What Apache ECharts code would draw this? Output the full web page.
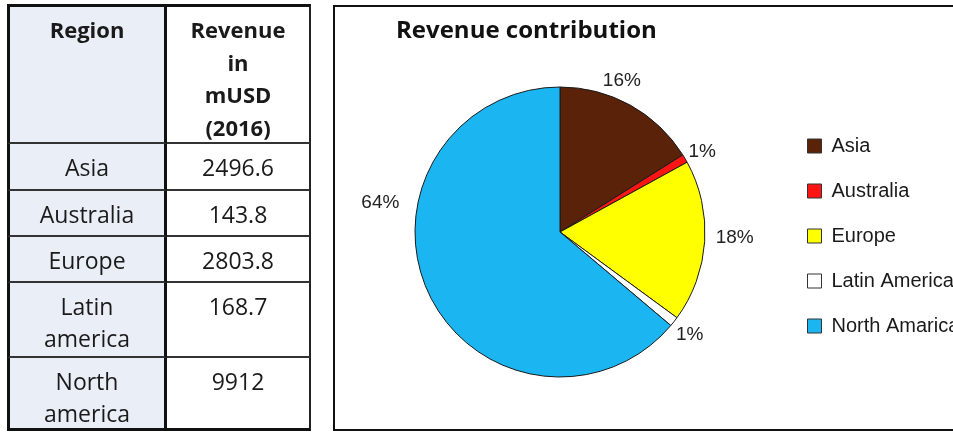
<!DOCTYPE html>
<html>
<head>
<meta charset="utf-8">
<script src="https://cdn.jsdelivr.net/npm/echarts@6/dist/echarts.min.js"></script>
<style>
html,body{margin:0;padding:0;width:953px;height:434px;overflow:hidden;background:#fff;}
#chart{position:absolute;left:0;top:0;width:953px;height:434px;}
#tbl{position:absolute;left:7px;top:4px;z-index:2;font-family:"Open Sans",sans-serif;color:#1a1a1a;}
.row{display:flex;}
.cell{box-sizing:border-box;text-align:center;padding-top:7px;line-height:32px;font-size:23px;border-bottom:2px solid #333;}
.c1{width:160px;background:#e9eef7;border-left:3px solid #111;border-right:3px solid #111;}
.c2{width:144px;background:#fff;border-right:2px solid #222;}
.hdr .cell{font-weight:bold;font-size:22px;line-height:32.5px;padding-top:6px;}
.top .cell{border-top:3px solid #111;}
.last .cell{border-bottom:3px solid #111;}
</style>
</head>
<body>
<div id="tbl"></div>
<div id="chart"></div>
<script>
// ---- data ----
const tableHeader = ["Region", "Revenue in mUSD (2016)"];
const tableRegions = ["Asia", "Australia", "Europe", "Latin america", "North america"];
const revenue = [2496.6, 143.8, 2803.8, 168.7, 9912];
const revenueText = ["2496.6", "143.8", "2803.8", "168.7", "9912"];
const legendNames = ["Asia", "Australia", "Europe", "Latin America", "North Amarica"];
const sliceColors = ["#5a2208", "#ff1414", "#ffff00", "#ffffff", "#1bb6f2"];
const chartTitle = "Revenue contribution";

// ---- table (layout) ----
const rowHeights = [140, 47, 46, 46, 75, 73];
const headerLines = [["Region"], ["Revenue", "in", "mUSD", "(2016)"]];
const tbl = document.getElementById('tbl');
function addRow(c1, c2, h, cls) {
  const r = document.createElement('div');
  r.className = 'row ' + (cls || '');
  const a = document.createElement('div'); a.className = 'cell c1'; a.style.height = h + 'px'; a.innerHTML = c1;
  const b = document.createElement('div'); b.className = 'cell c2'; b.style.height = h + 'px'; b.innerHTML = c2;
  r.appendChild(a); r.appendChild(b); tbl.appendChild(r);
}
addRow(headerLines[0].join('<br>'), headerLines[1].join('<br>'), rowHeights[0], 'hdr top');
tableRegions.forEach((reg, i) => {
  addRow(reg.split(' ').join('<br>'), revenueText[i], rowHeights[i + 1], i === tableRegions.length - 1 ? 'last' : '');
});

// ---- chart ----
const labelShift = [[-18, -7], [0, 3], [10, -5], [0, 1], [-30, -99]];
const chart = echarts.init(document.getElementById('chart'));
chart.setOption({
  animation: false,
  graphic: [{
    type: 'rect', silent: true,
    shape: { x: 334, y: 6, width: 700, height: 424 },
    style: { fill: 'none', stroke: '#111', lineWidth: 2 }
  }],
  title: {
    text: chartTitle, left: 396, top: 15, padding: 0,
    textStyle: { fontFamily: 'Open Sans', fontWeight: 'bold', fontSize: 24, color: '#111', lineHeight: 32 }
  },
  legend: {
    orient: 'vertical', left: 807, top: 136, padding: 0,
    itemWidth: 14, itemHeight: 14, itemGap: 25,
    icon: 'rect',
    data: legendNames,
    itemStyle: { borderColor: '#333', borderWidth: 1 },
    textStyle: { fontFamily: 'Liberation Sans', fontSize: 20, lineHeight: 20, color: '#1a1a1a', padding: [0, 0, 0, 5] }
  },
  series: [{
    type: 'pie',
    center: [560, 232],
    radius: 145,
    startAngle: 90,
    clockwise: true,
    avoidLabelOverlap: false,
    percentPrecision: 0,
    itemStyle: { borderColor: '#1a1a1a', borderWidth: 1 },
    emphasis: { disabled: true },
    label: {
      show: true, position: 'outside', formatter: '{d}%',
      fontFamily: 'Liberation Sans', fontSize: 19, color: '#222', distanceToLabelLine: 0
    },
    labelLine: { show: false, length: 20, length2: 0 },
    labelLayout: function (p) {
      const s = labelShift[p.dataIndex];
      return { align: 'center', verticalAlign: 'middle', dx: s[0], dy: s[1] };
    },
    data: legendNames.map((n, i) => ({ name: n, value: revenue[i], itemStyle: { color: sliceColors[i] } }))
  }]
});
</script>
</body>
</html>
